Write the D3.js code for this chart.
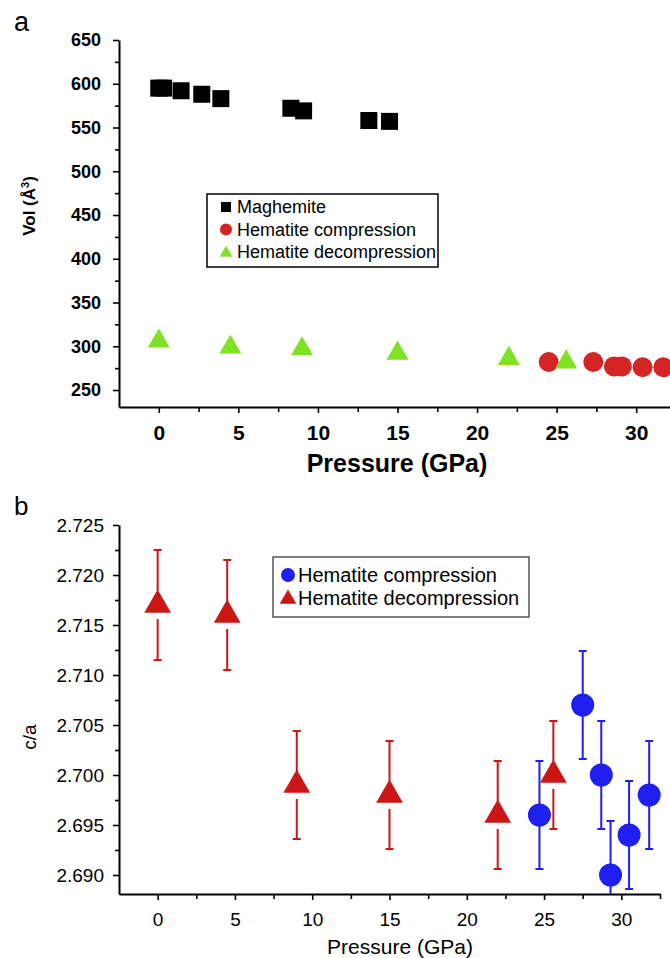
<!DOCTYPE html>
<html>
<head>
<meta charset="utf-8">
<script src="https://cdn.jsdelivr.net/npm/d3@7"></script>
<style>
	body { margin: 0; background: #fff; }
	svg { display: block; font-family: "Liberation Sans", Arial, sans-serif; }
</style>
</head>
<body>
<div id="main"></div>
<script>
// panel a : unit cell volume
const maghemiteP = [0, 0.3, 1.4, 2.7, 3.9, 8.3, 9.1, 13.2, 14.5];
const maghemiteV = [595, 595, 592, 588, 583, 572, 569, 558, 557];
const hemCompP = [24.5, 27.3, 28.6, 29.1, 30.4, 31.7];
const hemCompV = [282, 282, 277, 277, 276, 276];
const hemDecP = [0, 4.5, 9, 15, 22, 25.6];
const hemDecV = [306, 299, 297, 292, 286, 282];

// panel b : c/a ratio
const caCompP = [24.7, 27.5, 28.7, 29.3, 30.5, 31.8];
const caComp = [2.696, 2.707, 2.7, 2.69, 2.694, 2.698];
const caCompErr = [0.0054, 0.0054, 0.0054, 0.0054, 0.0054, 0.0054];
const caDecP = [0, 4.5, 9, 15, 22, 25.6];
const caDec = [2.717, 2.716, 2.699, 2.698, 2.696, 2.7];
const caDecErr = [0.0055, 0.0055, 0.0054, 0.0054, 0.0054, 0.0054];

const volTicks = [250, 300, 350, 400, 450, 500, 550, 600, 650];
const caTicks = [2.69, 2.695, 2.7, 2.705, 2.71, 2.715, 2.72, 2.725];
const pTicks = [0, 5, 10, 15, 20, 25, 30];

const legendA = ["Maghemite", "Hematite compression", "Hematite decompression"];
const legendB = ["Hematite compression", "Hematite decompression"];

const colors = {
	black: "#000",
	red: "#d42424",
	green: "#80e224",
	blue: "#1f1ff0",
	darkRed: "#cc1616",
};

const svg = d3
	.select("#main")
	.append("svg")
	.attr("width", 670)
	.attr("height", 958);

const zip = (xs, ys) => xs.map((x, i) => ({ x: x, y: ys[i] }));
const half = (arr) => arr.slice(0, -1).map((v, i) => (v + arr[i + 1]) / 2);

const drawAxes = (g, x, y, opts) => {
	const xMinor = half(pTicks).concat([-2.5 + 0, 32.5]).filter((v) => v > -2.5);
	const yMinor = half(opts.yTicks);
	const bottom = y.range()[0];
	const left = x.range()[0];

	g.append("g")
		.attr("transform", `translate(0,${bottom})`)
		.call(d3.axisBottom(x).tickValues(xMinor).tickSize(5).tickFormat(""))
		.call((s) => s.select(".domain").remove());
	g.append("g")
		.attr("transform", `translate(0,${bottom})`)
		.call(
			d3
				.axisBottom(x)
				.tickValues(pTicks)
				.tickSize(6)
				.tickPadding(opts.xPad)
				.tickSizeOuter(0)
		)
		.call((s) =>
			s
				.selectAll("text")
				.style("font-size", opts.xFont)
				.style("font-weight", opts.weight)
				.attr("fill", "#000")
		);

	g.append("g")
		.attr("transform", `translate(${left},0)`)
		.call(d3.axisLeft(y).tickValues(yMinor).tickSize(4).tickFormat(""))
		.call((s) => s.select(".domain").remove());
	g.append("g")
		.attr("transform", `translate(${left},0)`)
		.call(
			d3
				.axisLeft(y)
				.tickValues(opts.yTicks)
				.tickSize(6)
				.tickPadding(opts.yPad)
				.tickSizeOuter(0)
				.tickFormat(opts.yFormat)
		)
		.call((s) =>
			s
				.selectAll("text")
				.style("font-size", opts.yFont)
				.style("font-weight", opts.weight)
				.attr("fill", "#000")
		);

	g.selectAll(".domain").attr("stroke-width", 2).attr("stroke", "#000");
	g.selectAll(".tick line").attr("stroke-width", 1.6).attr("stroke", "#000");
};

// ---------- panel a ----------
const xa = d3.scaleLinear().domain([-2.5, 32.5]).range([119, 676]);
const ya = d3.scaleLinear().domain([230.6, 650]).range([407, 40]);
const ga = svg.append("g").classed("panel-a", true);

drawAxes(ga, xa, ya, {
	yTicks: volTicks,
	yFormat: d3.format("d"),
	xFont: "21px",
	yFont: "18px",
	weight: 700,
	xPad: 12,
	yPad: 12,
});

ga.append("text")
	.attr("x", 14)
	.attr("y", 31)
	.style("font-size", "27px")
	.text("a");

ga.append("text")
	.attr("transform", "translate(35,206) rotate(-90)")
	.attr("text-anchor", "middle")
	.style("font-size", "17px")
	.style("font-weight", 700)
	.html('Vol (Å<tspan dy="-6" font-size="11">3</tspan><tspan dy="6">)</tspan>');

ga.append("text")
	.attr("x", 397)
	.attr("y", 472)
	.attr("text-anchor", "middle")
	.style("font-size", "25px")
	.style("font-weight", 700)
	.text("Pressure (GPa)");

const sq = d3.symbol().type(d3.symbolSquare).size(17 * 17);
const triA = d3.symbol().type(d3.symbolTriangle).size(210);

ga.selectAll("path.mag")
	.data(zip(maghemiteP, maghemiteV))
	.enter()
	.append("path")
	.classed("mag", true)
	.attr("d", sq)
	.attr("transform", (d) => `translate(${xa(d.x)},${ya(d.y)})`)
	.attr("fill", colors.black);

ga.selectAll("path.dec")
	.data(zip(hemDecP, hemDecV))
	.enter()
	.append("path")
	.classed("dec", true)
	.attr("d", triA)
	.attr("transform", (d) => `translate(${xa(d.x)},${ya(d.y)})`)
	.attr("fill", colors.green);

ga.selectAll("circle.comp")
	.data(zip(hemCompP, hemCompV))
	.enter()
	.append("circle")
	.classed("comp", true)
	.attr("cx", (d) => xa(d.x))
	.attr("cy", (d) => ya(d.y))
	.attr("r", 10)
	.attr("fill", colors.red);

// bring the decompression triangle at 25.6 over the circle next to it
ga.selectAll("path.dec").raise();

const legA = ga.append("g").classed("legend", true);
legA.append("rect")
	.attr("x", 207)
	.attr("y", 194)
	.attr("width", 231)
	.attr("height", 73)
	.attr("fill", "#fff")
	.attr("stroke", "#000")
	.attr("stroke-width", 1.5);
legendA.forEach((name, i) => {
	const yy = 207 + i * 22.5;
	if (i === 0) {
		legA.append("path")
			.attr("d", d3.symbol().type(d3.symbolSquare).size(100))
			.attr("transform", `translate(226,${yy})`)
			.attr("fill", colors.black);
	} else if (i === 1) {
		legA.append("circle")
			.attr("cx", 226)
			.attr("cy", yy)
			.attr("r", 6)
			.attr("fill", colors.red);
	} else {
		legA.append("path")
			.attr("d", d3.symbol().type(d3.symbolTriangle).size(70))
			.attr("transform", `translate(226,${yy + 1})`)
			.attr("fill", colors.green);
	}
	legA.append("text")
		.attr("x", 237)
		.attr("y", yy + 6)
		.style("font-size", "18px")
		.text(name);
});

// ---------- panel b ----------
const xb = d3.scaleLinear().domain([-2.5, 32.5]).range([119, 660]);
const yb = d3.scaleLinear().domain([2.6881, 2.725]).range([894, 525]);
const gb = svg.append("g").classed("panel-b", true);

drawAxes(gb, xb, yb, {
	yTicks: caTicks,
	yFormat: d3.format(".3f"),
	xFont: "19px",
	yFont: "19px",
	weight: 400,
	xPad: 13,
	yPad: 9,
});

gb.append("text")
	.attr("x", 14)
	.attr("y", 515)
	.style("font-size", "26px")
	.text("b");

gb.append("text")
	.attr("transform", "translate(36,737) rotate(-90)")
	.attr("text-anchor", "middle")
	.style("font-size", "19px")
	.text("c/a");

gb.append("text")
	.attr("x", 400)
	.attr("y", 954)
	.attr("text-anchor", "middle")
	.style("font-size", "21px")
	.text("Pressure (GPa)");

svg.append("clipPath")
	.attr("id", "clip-b")
	.append("rect")
	.attr("x", 119)
	.attr("y", 500)
	.attr("width", 560)
	.attr("height", 394);

const errorBars = (g, data, color, gap) => {
	const bars = g
		.append("g")
		.attr("clip-path", "url(#clip-b)")
		.selectAll("g")
		.data(data)
		.enter()
		.append("g")
		.attr("stroke", color)
		.attr("stroke-width", 2);
	bars.append("line")
		.attr("x1", (d) => xb(d.x))
		.attr("x2", (d) => xb(d.x))
		.attr("y1", (d) => yb(d.y + d.e))
		.attr("y2", (d) => yb(d.y) - gap);
	bars.append("line")
		.attr("x1", (d) => xb(d.x))
		.attr("x2", (d) => xb(d.x))
		.attr("y1", (d) => yb(d.y) + gap)
		.attr("y2", (d) => yb(d.y - d.e));
	[1, -1].forEach((s) => {
		bars.append("line")
			.attr("x1", (d) => xb(d.x) - 4)
			.attr("x2", (d) => xb(d.x) + 4)
			.attr("y1", (d) => yb(d.y + s * d.e))
			.attr("y2", (d) => yb(d.y + s * d.e));
	});
};

const decData = caDecP.map((x, i) => ({ x: x, y: caDec[i], e: caDecErr[i] }));
const compData = caCompP.map((x, i) => ({ x: x, y: caComp[i], e: caCompErr[i] }));

errorBars(gb, decData, colors.darkRed, 14);
errorBars(gb, compData, colors.blue, 11);

gb.selectAll("path.dec")
	.data(decData)
	.enter()
	.append("path")
	.classed("dec", true)
	.attr("d", d3.symbol().type(d3.symbolTriangle).size(310))
	.attr("transform", (d) => `translate(${xb(d.x)},${yb(d.y)})`)
	.attr("fill", colors.darkRed);

gb.selectAll("circle.comp")
	.data(compData)
	.enter()
	.append("circle")
	.classed("comp", true)
	.attr("cx", (d) => xb(d.x))
	.attr("cy", (d) => yb(d.y))
	.attr("r", 11.5)
	.attr("fill", colors.blue);

const legB = gb.append("g").classed("legend", true);
legB.append("rect")
	.attr("x", 273)
	.attr("y", 557)
	.attr("width", 256)
	.attr("height", 60)
	.attr("fill", "#fff")
	.attr("stroke", "#555")
	.attr("stroke-width", 1.5);
legendB.forEach((name, i) => {
	const yy = 575 + i * 23;
	if (i === 0) {
		legB.append("circle")
			.attr("cx", 288)
			.attr("cy", yy)
			.attr("r", 7)
			.attr("fill", colors.blue);
	} else {
		legB.append("path")
			.attr("d", d3.symbol().type(d3.symbolTriangle).size(120))
			.attr("transform", `translate(288,${yy + 1})`)
			.attr("fill", colors.darkRed);
	}
	legB.append("text")
		.attr("x", 298)
		.attr("y", yy + 7)
		.style("font-size", "20px")
		.text(name);
});
</script>
</body>
</html>
